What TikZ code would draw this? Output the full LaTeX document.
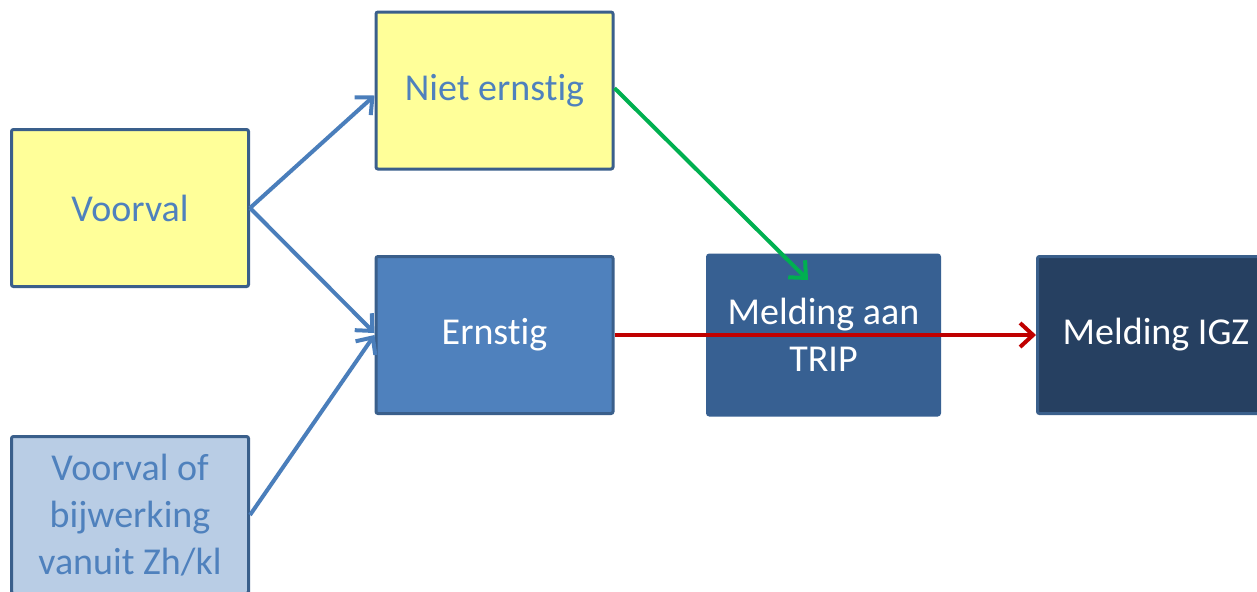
\documentclass[tikz,border=0pt]{standalone}
\usepackage{fontspec}
\setmainfont[Ligatures=NoCommon]{Carlito}
\usetikzlibrary{arrows.meta}
\definecolor{ylw}{HTML}{FFFF99}
\definecolor{edge}{HTML}{3A5F8B}
\definecolor{txtblue}{HTML}{4F81BD}
\definecolor{midblue}{HTML}{4F81BD}
\definecolor{tripblue}{HTML}{376092}
\definecolor{igzblue}{HTML}{264061}
\definecolor{lightblue}{HTML}{B9CDE5}
\definecolor{arrowblue}{HTML}{4A7EBB}
\definecolor{grn}{HTML}{00B050}
\definecolor{rd}{HTML}{C00000}
\tikzset{
  box/.style={rectangle, draw=edge, line width=1.5pt, rounded corners=1pt,
    minimum width=118.5pt, minimum height=78.5pt, align=center, inner sep=0pt,
    font=\fontsize{19}{23.5}\selectfont},
  yellowbox/.style={box, fill=ylw, text=txtblue},
  conn/.style={line width=2pt, -{Straight Barb[length=6.5pt,width=12pt,line width=2pt]}},
}
\begin{document}
\begin{tikzpicture}[x=0.5pt,y=-0.5pt]
\clip (0,0) rectangle (1257,591);
\fill[white] (0,0) rectangle (1257,591);
\node[yellowbox] (voorval) at (130,208) {Voorval};
\node[yellowbox] (niet) at (494.5,90.5) {Niet ernstig};
\node[box, fill=midblue, text=white] (ernstig) at (494.5,335) {Ernstig};
\node[box, draw=tripblue, fill=tripblue, text=white, minimum width=116pt, minimum height=80pt] (trip) at (823.5,335) {Melding aan\\TRIP};
\node[box, fill=igzblue, text=white] (igz) at (1156,335) {Melding IGZ};
\node[box, fill=lightblue, text=txtblue] (zh) at (130,515) {Voorval of\\bijwerking\\vanuit Zh/kl};
\coordinate (green end) at (808,280);
\draw[conn, arrowblue] (voorval.east) -- ([yshift=-2.5pt]niet.west);
\draw[conn, arrowblue] (voorval.east) -- ([yshift=1pt]ernstig.west);
\draw[conn, arrowblue] (zh.east) -- (ernstig.west);
\draw[conn, grn] ([yshift=1.2pt]niet.east) -- (green end);
\draw[conn, rd] (ernstig.east) -- (igz.west);
\end{tikzpicture}
\end{document}
